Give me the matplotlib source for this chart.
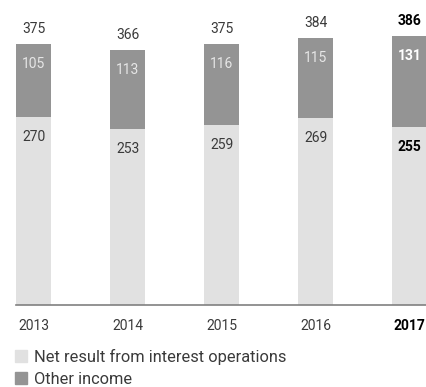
import numpy as np
import matplotlib.pyplot as plt
from matplotlib.patches import Patch

plt.rcParams['font.family'] = ['Roboto', 'DejaVu Sans']

years = ['2013', '2014', '2015', '2016', '2017']
interest = [270, 253, 259, 269, 255]   # net result from interest operations
other = [105, 113, 116, 115, 131]      # other income
totals = [375, 366, 375, 384, 386]

light = '#e1e1e1'
dark = '#949494'
txt = '#3a3a3a'
w = 0.372

fig = plt.figure(figsize=(4.27, 3.87), dpi=100)
ax = fig.add_axes([0, 82 / 387, 1, 305 / 387])

x = np.arange(len(years))
ax.bar(x, interest, w, color=light)
ax.bar(x, other, w, bottom=interest, color=dark)

ax.set_xlim(-33.5 / 94, 4 + w / 2)
ax.set_ylim(0, 438)

for i in range(len(years)):
    last = i == len(years) - 1
    wt = 'bold' if last else 'normal'
    c = 'black' if last else txt
    ax.annotate(str(totals[i]), (x[i], totals[i]), xytext=(0, 15),
                textcoords='offset pixels', ha='center', va='center',
                fontsize=10, fontweight=wt, color=c)
    ax.annotate(str(other[i]), (x[i], totals[i]), xytext=(0, -20),
                textcoords='offset pixels', ha='center', va='center',
                fontsize=10, fontweight=wt, color='white' if last else '#e6e6e6')
    ax.annotate(str(interest[i]), (x[i], interest[i]), xytext=(0, -20),
                textcoords='offset pixels', ha='center', va='center',
                fontsize=10, fontweight=wt, color=c)

# only a bottom baseline, starting at the first bar
for s in ['top', 'left', 'right']:
    ax.spines[s].set_visible(False)
ax.spines['bottom'].set_color('#808080')
ax.spines['bottom'].set_linewidth(1.2)
ax.spines['bottom'].set_bounds(-w / 2, 4 + w / 2)

ax.set_yticks([])
ax.set_xticks(x)
ax.set_xticklabels(years, fontsize=10, color=txt)
ax.tick_params(axis='x', length=0, pad=10)
lbl = ax.get_xticklabels()[-1]
lbl.set_fontweight('bold')
lbl.set_color('black')

handles = [Patch(color=light, label='Net result from interest operations'),
           Patch(color=dark, label='Other income')]
fig.legend(handles=handles, loc='upper left',
           bbox_to_anchor=(15 / 427, 38 / 387),
           frameon=False, handlelength=0.75, handleheight=0.75,
           handletextpad=0.4, labelspacing=0.4, borderaxespad=0,
           borderpad=0, labelcolor=txt, prop={'size': 11.8})

fig.savefig('out.png', dpi=100)
